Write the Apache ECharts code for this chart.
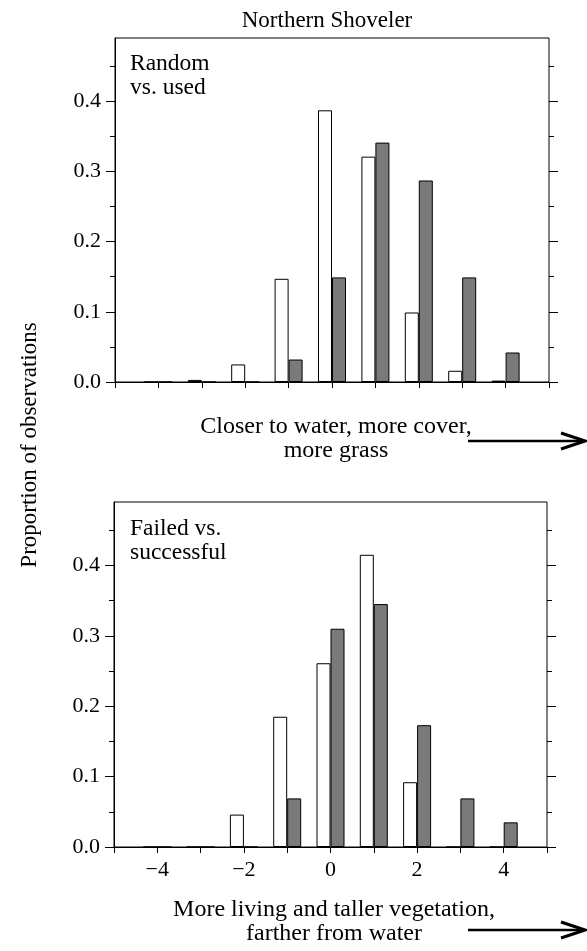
<!DOCTYPE html>
<html><head><meta charset="utf-8">
<script src="https://cdn.jsdelivr.net/npm/echarts@6/dist/echarts.min.js"></script>
<style>html,body{margin:0;padding:0;background:#fff}#c{width:587px;height:951px}</style>
</head><body><div id="c"></div>
<script>
const categories = [-4, -3, -2, -1, 0, 1, 2, 3, 4];
const randomVals = [0, 0.003, 0.025, 0.147, 0.387, 0.321, 0.099, 0.016, 0.002];
const usedVals = [0, 0, 0, 0.032, 0.149, 0.341, 0.287, 0.149, 0.042];
const failedVals = [0, 0, 0.046, 0.185, 0.261, 0.415, 0.092, 0, 0];
const successfulVals = [0, 0, 0, 0.069, 0.310, 0.345, 0.173, 0.069, 0.035];
const yMajorTicks = [0, 0.1, 0.2, 0.3, 0.4];
const yMinorTicks = [0.05, 0.15, 0.25, 0.35, 0.45];
const xTickLabels = [-4, -2, 0, 2, 4];

const FONT = '"Liberation Serif", "DejaVu Serif", serif';
const FS = 22;
const chart = echarts.init(document.getElementById('c'), null, {renderer: 'canvas'});

function fmtX(v) { return v < 0 ? '\u2212' + Math.abs(v) : String(v); }

function xAxisFor(g, showLabels) {
  return {
    type: 'value', gridIndex: g, min: -5, max: 5, interval: 1,
    axisLine: {show: true, onZero: false, lineStyle: {color: '#000', width: 1}},
    axisTick: {show: true, inside: false, length: 6, lineStyle: {color: '#000'}},
    axisLabel: {show: showLabels, margin: 12, color: '#000', fontFamily: FONT, fontSize: FS,
      formatter: v => xTickLabels.includes(v) ? fmtX(v) : ''},
    splitLine: {show: false}
  };
}
function yAxesFor(g) {
  const base = {type: 'value', gridIndex: g, min: 0, max: 0.49, splitLine: {show: false}};
  return [
    Object.assign({}, base, {position: 'left',
      axisLine: {show: true, onZero: false, lineStyle: {color: '#000'}},
      axisTick: {show: true, length: 9, customValues: yMajorTicks, lineStyle: {color: '#000'}},
      axisLabel: {show: true, customValues: yMajorTicks, margin: 14, color: '#000', fontFamily: FONT, fontSize: FS,
        formatter: v => v.toFixed(1)}}),
    Object.assign({}, base, {position: 'left',
      axisLine: {show: false, onZero: false},
      axisTick: {show: true, length: 5, customValues: yMinorTicks, lineStyle: {color: '#000'}},
      axisLabel: {show: false}}),
    Object.assign({}, base, {position: 'right',
      axisLine: {show: false, onZero: false},
      axisTick: {show: true, length: 9, customValues: yMajorTicks, lineStyle: {color: '#000'}},
      axisLabel: {show: false}}),
    Object.assign({}, base, {position: 'right',
      axisLine: {show: false, onZero: false},
      axisTick: {show: true, length: 5, customValues: yMinorTicks, lineStyle: {color: '#000'}},
      axisLabel: {show: false}})
  ];
}
function barSeries(name, vals, g, color) {
  return {
    type: 'bar', name: name, xAxisIndex: g, yAxisIndex: g * 4,
    barWidth: 14, barGap: '0%',
    data: categories.map((c, i) => [c, vals[i]]),
    itemStyle: {color: color, borderColor: '#000', borderWidth: 1},
    animation: false, silent: true
  };
}
function txt(x, y, text, opts) {
  return Object.assign({type: 'text', x: x, y: y, silent: true,
    style: Object.assign({text: text, fontFamily: FONT, fontSize: 24, fill: '#000',
      align: 'center', verticalAlign: 'middle', lineHeight: 24}, (opts && opts.style) || {})},
    opts && opts.extra || {});
}
function arrow(y) {
  return [
    {type: 'line', silent: true, shape: {x1: 468, y1: y, x2: 584, y2: y}, style: {stroke: '#000', lineWidth: 2.5}},
    {type: 'polyline', silent: true, shape: {points: [[561, y - 8], [585, y], [561, y + 8]]},
      style: {stroke: '#000', lineWidth: 3, fill: null}}
  ];
}

const option = {
  backgroundColor: '#fff',
  animation: false,
  grid: [
    {left: 115, top: 38, width: 434, height: 344, show: true, borderColor: '#000', borderWidth: 1, backgroundColor: 'transparent'},
    {left: 114, top: 502, width: 433, height: 345, show: true, borderColor: '#000', borderWidth: 1, backgroundColor: 'transparent'}
  ],
  xAxis: [xAxisFor(0, false), xAxisFor(1, true)],
  yAxis: yAxesFor(0).concat(yAxesFor(1)),
  series: [
    barSeries('Random', randomVals, 0, '#ffffff'),
    barSeries('Used', usedVals, 0, '#7a7a7a'),
    barSeries('Failed', failedVals, 1, '#ffffff'),
    barSeries('Successful', successfulVals, 1, '#7a7a7a')
  ],
  graphic: [
    txt(327, 21, 'Northern Shoveler', {style: {fontSize: 23}}),
    txt(130, 76, 'Random\nvs. used', {style: {align: 'left', fontSize: 23.5}}),
    txt(130, 541, 'Failed vs.\nsuccessful', {style: {align: 'left', fontSize: 23.5}}),
    txt(336, 439, 'Closer to water, more cover,\nmore grass'),
    txt(334, 922, 'More living and taller vegetation,\nfarther from water'),
    txt(30, 445, 'Proportion of observations', {extra: {rotation: Math.PI / 2}, style: {fontSize: 23}})
  ].concat(arrow(441), arrow(930))
};
chart.setOption(option);
</script>
</body></html>
